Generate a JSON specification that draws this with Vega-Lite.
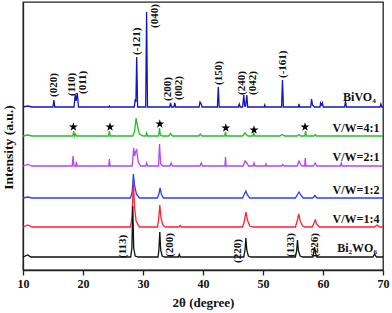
{
  "$schema": "https://vega.github.io/schema/vega-lite/v6.json",
  "width": 360,
  "height": 268,
  "autosize": "none",
  "padding": {"left": 23, "top": 2, "right": 9, "bottom": 43},
  "background": "white",
  "config": {
    "view": {"stroke": "#222222", "strokeWidth": 1.3},
    "font": "Liberation Serif"
  },
  "datasets": {
    "spectra": [
      {"s":"BiVO4","x":10,"y":163},{"s":"BiVO4","x":10.8,"y":164},{"s":"BiVO4","x":11.5,"y":163},{"s":"BiVO4","x":15.0,"y":163},{"s":"BiVO4","x":15.15,"y":170},{"s":"BiVO4","x":15.3,"y":163},{"s":"BiVO4","x":18.5,"y":163},{"s":"BiVO4","x":18.7,"y":175},{"s":"BiVO4","x":18.85,"y":169},{"s":"BiVO4","x":19.05,"y":177},{"s":"BiVO4","x":19.25,"y":163},{"s":"BiVO4","x":24.3,"y":163},{"s":"BiVO4","x":24.4,"y":164},{"s":"BiVO4","x":24.5,"y":163},{"s":"BiVO4","x":28.55,"y":163},{"s":"BiVO4","x":28.72,"y":171},{"s":"BiVO4","x":28.82,"y":168},{"s":"BiVO4","x":28.95,"y":213},{"s":"BiVO4","x":29.1,"y":163},{"s":"BiVO4","x":30.45,"y":163},{"s":"BiVO4","x":30.6,"y":258},{"s":"BiVO4","x":30.75,"y":163},{"s":"BiVO4","x":34.45,"y":163},{"s":"BiVO4","x":34.6,"y":167},{"s":"BiVO4","x":34.75,"y":163},{"s":"BiVO4","x":35.15,"y":163},{"s":"BiVO4","x":35.3,"y":167},{"s":"BiVO4","x":35.45,"y":163},{"s":"BiVO4","x":39.35,"y":163},{"s":"BiVO4","x":39.5,"y":168},{"s":"BiVO4","x":39.7,"y":166},{"s":"BiVO4","x":39.85,"y":163},{"s":"BiVO4","x":42.4,"y":163},{"s":"BiVO4","x":42.55,"y":183},{"s":"BiVO4","x":42.7,"y":163},{"s":"BiVO4","x":45.9,"y":163},{"s":"BiVO4","x":46.05,"y":166},{"s":"BiVO4","x":46.2,"y":163},{"s":"BiVO4","x":46.6,"y":163},{"s":"BiVO4","x":46.8,"y":175},{"s":"BiVO4","x":46.95,"y":164},{"s":"BiVO4","x":47.1,"y":164},{"s":"BiVO4","x":47.3,"y":175},{"s":"BiVO4","x":47.45,"y":163},{"s":"BiVO4","x":50.2,"y":163},{"s":"BiVO4","x":50.3,"y":165},{"s":"BiVO4","x":50.4,"y":163},{"s":"BiVO4","x":53.1,"y":163},{"s":"BiVO4","x":53.25,"y":190},{"s":"BiVO4","x":53.4,"y":163},{"s":"BiVO4","x":55.9,"y":163},{"s":"BiVO4","x":56.0,"y":166},{"s":"BiVO4","x":56.1,"y":163},{"s":"BiVO4","x":57.95,"y":163},{"s":"BiVO4","x":58.1,"y":171},{"s":"BiVO4","x":58.25,"y":165},{"s":"BiVO4","x":58.4,"y":164},{"s":"BiVO4","x":58.6,"y":163},{"s":"BiVO4","x":59.5,"y":163},{"s":"BiVO4","x":59.6,"y":167},{"s":"BiVO4","x":59.75,"y":165},{"s":"BiVO4","x":59.9,"y":167},{"s":"BiVO4","x":60.05,"y":163},{"s":"BiVO4","x":63.6,"y":163},{"s":"BiVO4","x":63.75,"y":169},{"s":"BiVO4","x":63.9,"y":163},{"s":"BiVO4","x":69.5,"y":163},{"s":"BiVO4","x":69.65,"y":166},{"s":"BiVO4","x":69.8,"y":163},{"s":"BiVO4","x":70,"y":163},
      {"s":"V41","x":10,"y":134},{"s":"V41","x":10.8,"y":135},{"s":"V41","x":11.5,"y":134},{"s":"V41","x":18.3,"y":134},{"s":"V41","x":18.45,"y":139},{"s":"V41","x":18.6,"y":134},{"s":"V41","x":18.75,"y":136},{"s":"V41","x":18.95,"y":134},{"s":"V41","x":24.25,"y":134},{"s":"V41","x":24.4,"y":139},{"s":"V41","x":24.55,"y":134},{"s":"V41","x":28.3,"y":134},{"s":"V41","x":28.6,"y":139},{"s":"V41","x":28.85,"y":152},{"s":"V41","x":29.05,"y":145},{"s":"V41","x":29.4,"y":136},{"s":"V41","x":30.0,"y":134},{"s":"V41","x":30.45,"y":134},{"s":"V41","x":30.6,"y":137},{"s":"V41","x":30.75,"y":134},{"s":"V41","x":32.6,"y":134},{"s":"V41","x":32.75,"y":142},{"s":"V41","x":32.9,"y":135},{"s":"V41","x":33.2,"y":134},{"s":"V41","x":34.3,"y":134},{"s":"V41","x":34.6,"y":136.5},{"s":"V41","x":34.9,"y":134},{"s":"V41","x":39.3,"y":134},{"s":"V41","x":39.55,"y":136},{"s":"V41","x":39.8,"y":134},{"s":"V41","x":43.6,"y":134},{"s":"V41","x":43.75,"y":138},{"s":"V41","x":43.9,"y":134},{"s":"V41","x":46.6,"y":134},{"s":"V41","x":47.0,"y":137},{"s":"V41","x":47.5,"y":134},{"s":"V41","x":48.3,"y":134},{"s":"V41","x":48.45,"y":137},{"s":"V41","x":48.6,"y":134},{"s":"V41","x":52.8,"y":134},{"s":"V41","x":53.2,"y":135.5},{"s":"V41","x":53.6,"y":134},{"s":"V41","x":55.7,"y":134},{"s":"V41","x":56.0,"y":135.5},{"s":"V41","x":56.3,"y":134},{"s":"V41","x":56.95,"y":134},{"s":"V41","x":57.1,"y":139},{"s":"V41","x":57.25,"y":134},{"s":"V41","x":58.5,"y":134},{"s":"V41","x":58.7,"y":135.5},{"s":"V41","x":58.9,"y":134},{"s":"V41","x":70,"y":134},
      {"s":"V21","x":10,"y":104},{"s":"V21","x":10.8,"y":105.5},{"s":"V21","x":11.5,"y":104},{"s":"V21","x":18.2,"y":104},{"s":"V21","x":18.35,"y":114},{"s":"V21","x":18.5,"y":104},{"s":"V21","x":18.8,"y":104},{"s":"V21","x":18.9,"y":108},{"s":"V21","x":19.0,"y":104},{"s":"V21","x":24.3,"y":104},{"s":"V21","x":24.4,"y":111},{"s":"V21","x":24.5,"y":104},{"s":"V21","x":28.2,"y":104},{"s":"V21","x":28.45,"y":122},{"s":"V21","x":28.6,"y":114},{"s":"V21","x":28.75,"y":118},{"s":"V21","x":28.95,"y":120},{"s":"V21","x":29.2,"y":108},{"s":"V21","x":29.6,"y":104},{"s":"V21","x":30.45,"y":104},{"s":"V21","x":30.6,"y":107},{"s":"V21","x":30.75,"y":104},{"s":"V21","x":32.6,"y":104},{"s":"V21","x":32.75,"y":126},{"s":"V21","x":32.95,"y":106},{"s":"V21","x":33.3,"y":104},{"s":"V21","x":34.5,"y":104},{"s":"V21","x":34.7,"y":107},{"s":"V21","x":34.9,"y":104},{"s":"V21","x":39.5,"y":104},{"s":"V21","x":39.7,"y":107},{"s":"V21","x":39.9,"y":104},{"s":"V21","x":43.65,"y":104},{"s":"V21","x":43.75,"y":113},{"s":"V21","x":43.85,"y":104},{"s":"V21","x":46.7,"y":104},{"s":"V21","x":47.0,"y":109},{"s":"V21","x":47.3,"y":107},{"s":"V21","x":47.6,"y":104},{"s":"V21","x":48.35,"y":104},{"s":"V21","x":48.5,"y":107},{"s":"V21","x":48.65,"y":104},{"s":"V21","x":50.4,"y":104},{"s":"V21","x":50.5,"y":106},{"s":"V21","x":50.6,"y":104},{"s":"V21","x":53.1,"y":104},{"s":"V21","x":53.3,"y":105.5},{"s":"V21","x":53.5,"y":104},{"s":"V21","x":55.7,"y":104},{"s":"V21","x":56.0,"y":109},{"s":"V21","x":56.3,"y":105},{"s":"V21","x":56.6,"y":104},{"s":"V21","x":56.95,"y":104},{"s":"V21","x":57.05,"y":112},{"s":"V21","x":57.15,"y":104},{"s":"V21","x":58.4,"y":104},{"s":"V21","x":58.7,"y":107},{"s":"V21","x":59.0,"y":104},{"s":"V21","x":62.9,"y":104},{"s":"V21","x":63.05,"y":107},{"s":"V21","x":63.2,"y":104},{"s":"V21","x":70,"y":104},
      {"s":"V12","x":10,"y":72},{"s":"V12","x":10.8,"y":73},{"s":"V12","x":11.5,"y":72},{"s":"V12","x":27.9,"y":72},{"s":"V12","x":28.2,"y":78},{"s":"V12","x":28.4,"y":96},{"s":"V12","x":28.6,"y":84},{"s":"V12","x":28.9,"y":76},{"s":"V12","x":29.4,"y":72},{"s":"V12","x":32.4,"y":72},{"s":"V12","x":32.65,"y":76},{"s":"V12","x":32.85,"y":82},{"s":"V12","x":33.05,"y":76},{"s":"V12","x":33.4,"y":72},{"s":"V12","x":46.6,"y":72},{"s":"V12","x":46.9,"y":76},{"s":"V12","x":47.15,"y":79},{"s":"V12","x":47.4,"y":75},{"s":"V12","x":47.8,"y":72},{"s":"V12","x":55.4,"y":72},{"s":"V12","x":55.8,"y":76},{"s":"V12","x":56.0,"y":78},{"s":"V12","x":56.3,"y":75},{"s":"V12","x":56.7,"y":72},{"s":"V12","x":58.3,"y":72},{"s":"V12","x":58.65,"y":74.5},{"s":"V12","x":59.0,"y":72},{"s":"V12","x":70,"y":72},
      {"s":"V14","x":10,"y":43},{"s":"V14","x":10.8,"y":45},{"s":"V14","x":11.5,"y":43},{"s":"V14","x":27.9,"y":43},{"s":"V14","x":28.15,"y":52},{"s":"V14","x":28.4,"y":88},{"s":"V14","x":28.6,"y":62},{"s":"V14","x":28.85,"y":49},{"s":"V14","x":29.4,"y":43},{"s":"V14","x":32.4,"y":43},{"s":"V14","x":32.6,"y":50},{"s":"V14","x":32.8,"y":65},{"s":"V14","x":33.0,"y":52},{"s":"V14","x":33.3,"y":45},{"s":"V14","x":33.7,"y":43},{"s":"V14","x":36.0,"y":43},{"s":"V14","x":36.2,"y":44.5},{"s":"V14","x":36.4,"y":43},{"s":"V14","x":46.6,"y":43},{"s":"V14","x":46.9,"y":49},{"s":"V14","x":47.15,"y":58},{"s":"V14","x":47.4,"y":50},{"s":"V14","x":47.8,"y":44},{"s":"V14","x":48.3,"y":43},{"s":"V14","x":55.4,"y":43},{"s":"V14","x":55.7,"y":49},{"s":"V14","x":55.95,"y":56},{"s":"V14","x":56.2,"y":49},{"s":"V14","x":56.6,"y":44},{"s":"V14","x":57.0,"y":43},{"s":"V14","x":58.2,"y":43},{"s":"V14","x":58.5,"y":47},{"s":"V14","x":58.7,"y":50},{"s":"V14","x":58.95,"y":46},{"s":"V14","x":59.4,"y":43},{"s":"V14","x":68.6,"y":43},{"s":"V14","x":69.0,"y":45},{"s":"V14","x":69.4,"y":43},{"s":"V14","x":70,"y":43},
      {"s":"Bi2WO6","x":10,"y":13},{"s":"Bi2WO6","x":10.8,"y":15},{"s":"Bi2WO6","x":11.3,"y":13},{"s":"Bi2WO6","x":27.95,"y":13},{"s":"Bi2WO6","x":28.15,"y":22},{"s":"Bi2WO6","x":28.3,"y":64},{"s":"Bi2WO6","x":28.45,"y":22},{"s":"Bi2WO6","x":28.7,"y":14},{"s":"Bi2WO6","x":29.2,"y":13},{"s":"Bi2WO6","x":32.5,"y":13},{"s":"Bi2WO6","x":32.65,"y":20},{"s":"Bi2WO6","x":32.8,"y":38},{"s":"Bi2WO6","x":32.95,"y":20},{"s":"Bi2WO6","x":33.2,"y":14},{"s":"Bi2WO6","x":33.6,"y":13},{"s":"Bi2WO6","x":35.9,"y":13},{"s":"Bi2WO6","x":36.05,"y":15.5},{"s":"Bi2WO6","x":36.2,"y":13},{"s":"Bi2WO6","x":46.8,"y":13},{"s":"Bi2WO6","x":47.0,"y":20},{"s":"Bi2WO6","x":47.15,"y":32},{"s":"Bi2WO6","x":47.3,"y":20},{"s":"Bi2WO6","x":47.55,"y":14},{"s":"Bi2WO6","x":48.0,"y":13},{"s":"Bi2WO6","x":55.4,"y":13},{"s":"Bi2WO6","x":55.6,"y":19},{"s":"Bi2WO6","x":55.75,"y":30},{"s":"Bi2WO6","x":55.9,"y":19},{"s":"Bi2WO6","x":56.2,"y":14},{"s":"Bi2WO6","x":56.6,"y":13},{"s":"Bi2WO6","x":58.3,"y":13},{"s":"Bi2WO6","x":58.45,"y":17},{"s":"Bi2WO6","x":58.6,"y":23},{"s":"Bi2WO6","x":58.75,"y":17},{"s":"Bi2WO6","x":59.0,"y":13},{"s":"Bi2WO6","x":68.3,"y":13},{"s":"Bi2WO6","x":68.6,"y":16},{"s":"Bi2WO6","x":68.9,"y":13},{"s":"Bi2WO6","x":70,"y":13}
    ],
    "planes": [
      {"x":15.2,"y":173,"t":"(020)"},
      {"x":18.1,"y":174,"t":"(110)"},
      {"x":19.95,"y":176,"t":"(011)"},
      {"x":28.95,"y":215,"t":"(-121)"},
      {"x":32.0,"y":242,"t":"(040)"},
      {"x":34.2,"y":169,"t":"(200)"},
      {"x":36.05,"y":170,"t":"(002)"},
      {"x":42.7,"y":185,"t":"(150)"},
      {"x":46.45,"y":175,"t":"(240)"},
      {"x":48.4,"y":175,"t":"(042)"},
      {"x":53.3,"y":192,"t":"(-161)"},
      {"x":26.7,"y":12,"t":"(113)"},
      {"x":34.5,"y":13,"t":"(200)"},
      {"x":45.8,"y":7,"t":"(220)"},
      {"x":54.7,"y":13,"t":"(133)"},
      {"x":58.7,"y":13,"t":"(226)"}
    ],
    "names": [
      {"x":68.8,"y":173,"t":"BiVO₄"},
      {"x":69.4,"y":142,"t":"V/W=4:1"},
      {"x":69.4,"y":113,"t":"V/W=2:1"},
      {"x":69.4,"y":80,"t":"V/W=1:2"},
      {"x":69.4,"y":51,"t":"V/W=1:4"},
      {"x":69.0,"y":22,"t":"Bi₂WO₆"}
    ],
    "stars": [
      {"x":18.4,"y":143},
      {"x":24.5,"y":143},
      {"x":32.8,"y":146},
      {"x":43.8,"y":142},
      {"x":48.5,"y":140},
      {"x":57.0,"y":143}
    ]
  },
  "layer": [
    {
      "data": {"name": "spectra"},
      "mark": {"type": "line", "strokeWidth": 1.3, "interpolate": "linear"},
      "encoding": {
        "x": {
          "field": "x", "type": "quantitative",
          "scale": {"domain": [10, 70], "nice": false, "zero": false},
          "axis": {
            "title": "2θ (degree)",
            "values": [10,15,20,25,30,35,40,45,50,55,60,65,70],
            "labelExpr": "datum.value % 10 === 0 ? datum.label : ''",
            "grid": false,
            "tickColor": "#222222",
            "tickWidth": 1.3,
            "tickSize": {"condition": {"test": "datum.value % 10 !== 0", "value": 3}, "value": 5},
            "domainColor": "#222222",
            "domainWidth": 1.3,
            "labelFont": "Liberation Serif",
            "labelFontWeight": "bold",
            "labelFontSize": 12,
            "labelColor": "#111111",
            "labelPadding": 3,
            "labelFlush": false,
            "titleFont": "Liberation Serif",
            "titleFontWeight": "bold",
            "titleFontSize": 13,
            "titleColor": "#111111",
            "titlePadding": 7
          }
        },
        "y": {
          "field": "y", "type": "quantitative",
          "scale": {"domain": [0, 268], "nice": false},
          "axis": {
            "title": "Intensity (a.u.)",
            "ticks": false,
            "labels": false,
            "grid": false,
            "domainColor": "#222222",
            "domainWidth": 1.3,
            "titleFont": "Liberation Serif",
            "titleFontWeight": "bold",
            "titleFontSize": 13.5,
            "titleColor": "#111111",
            "titleY": 145,
            "titleX": -8,
            "titleAngle": 270,
            "titleAlign": "center",
            "titleBaseline": "bottom"
          }
        },
        "color": {
          "field": "s", "type": "nominal",
          "scale": {
            "domain": ["BiVO4","V41","V21","V12","V14","Bi2WO6"],
            "range": ["#1414c0","#22c022","#b445f0","#2a3cff","#ff2030","#111111"]
          },
          "legend": null
        }
      }
    },
    {
      "data": {"name": "planes"},
      "mark": {"type": "text", "angle": 270, "align": "left", "baseline": "middle", "font": "Liberation Serif", "fontWeight": "bold", "fontSize": 11, "color": "#111111"},
      "encoding": {
        "x": {"field": "x", "type": "quantitative"},
        "y": {"field": "y", "type": "quantitative"},
        "text": {"field": "t"}
      }
    },
    {
      "data": {"name": "names"},
      "mark": {"type": "text", "align": "right", "baseline": "middle", "font": "Liberation Serif", "fontWeight": "bold", "fontSize": 12, "color": "#111111"},
      "encoding": {
        "x": {"field": "x", "type": "quantitative"},
        "y": {"field": "y", "type": "quantitative"},
        "text": {"field": "t"}
      }
    },
    {
      "data": {"name": "stars"},
      "mark": {"type": "point", "filled": true, "color": "#000000", "opacity": 1, "size": 90, "shape": "M0,-1L0.2245,-0.309L0.951,-0.309L0.363,0.118L0.588,0.809L0,0.382L-0.588,0.809L-0.363,0.118L-0.951,-0.309L-0.2245,-0.309Z"},
      "encoding": {
        "x": {"field": "x", "type": "quantitative"},
        "y": {"field": "y", "type": "quantitative"}
      }
    }
  ]
}
